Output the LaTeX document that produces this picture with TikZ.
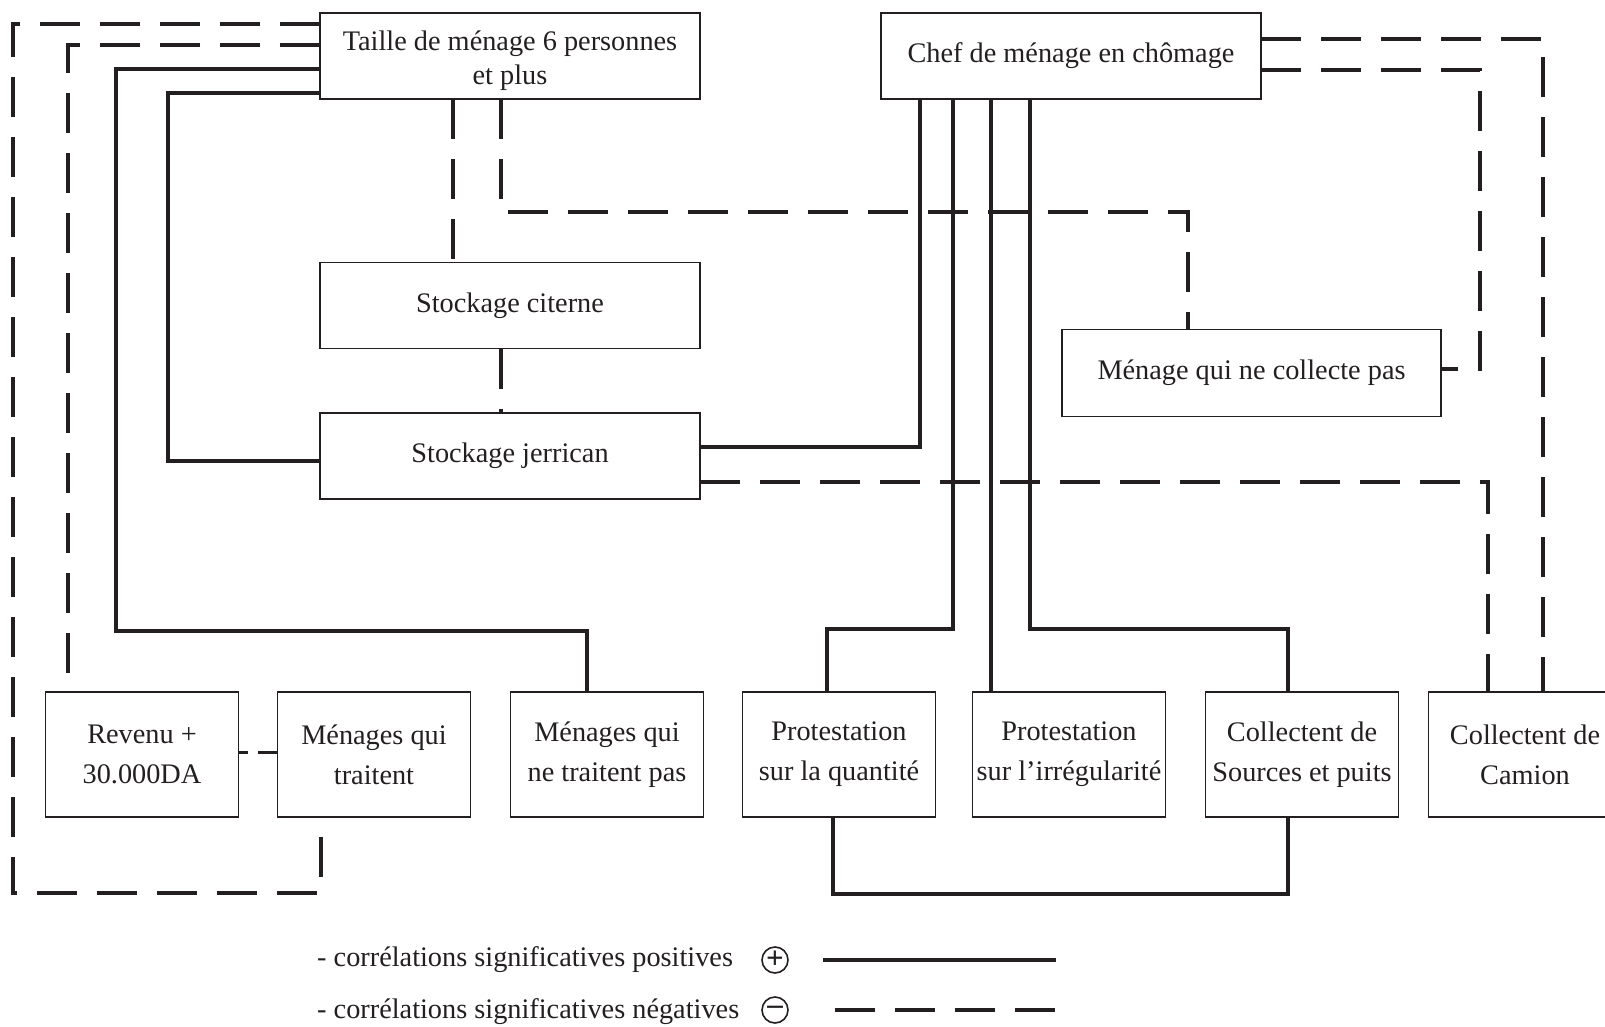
\documentclass[tikz,border=0pt]{standalone}
\usepackage{fontspec}
\setmainfont{Liberation Serif}
\usetikzlibrary{positioning}
\definecolor{tinta}{RGB}{35,31,32}
\tikzset{
	every node/.style={
		font=\fontsize{28.3pt}{34pt}\selectfont,
		text=tinta
	},
	caja/.style={
		shape=rectangle,
		minimum width=380pt,
		minimum height=86pt,
		inner sep=0pt,
		outer sep=0pt,
		align=center,
		draw=tinta,
		line width=1.5pt
	},
	cajita/.style={
		caja,
		minimum width=193pt,
		minimum height=125pt,
		font=\fontsize{28.3pt}{40pt}\selectfont
	},
	leyenda/.style={
		inner sep=0pt,
		anchor=base west
	},
	signo/.style={
		shape=circle,
		draw=tinta,
		line width=1.6pt,
		minimum size=26pt,
		inner sep=0pt,
		font=\fontsize{31pt}{31pt}\selectfont\bfseries
	},
	positiva/.style={draw=tinta, line width=3.2pt},
	negativa/.style={draw=tinta, line width=3.6pt, dash pattern=on 40pt off 20pt},
}

\begin{document}
\begin{tikzpicture}[x=1pt,y=-1pt,line join=miter]
	\useasboundingbox (0,0) rectangle (1605,1027);
	
	% Cajas de arriba
	\node[caja] (Taille)   at (510,56)     {\rule{0pt}{30pt}Taille de ménage 6 personnes\\et plus};
	\node[caja] (Citerne)  at (510,305.5)  {Stockage citerne};
	\node[caja] (Jerrican) at (510,456)    {Stockage jerrican};
	\node[caja] (Chef)     at (1071,56)    {Chef de ménage en chômage};
	\node[caja, minimum width=379pt, minimum height=87pt] (Collecte) at (1251.5,373) {Ménage qui ne collecte pas};
	
	% Fila de abajo
	\node[cajita] (Revenu)                           at (142,754.5) {Revenu +\\30.000DA};
	\node[cajita] (Traitent)    [right=39pt of Revenu]      {Ménages qui\\traitent};
	\node[cajita] (NonTraitent) [right=40pt of Traitent]    {Ménages qui\\ne traitent pas};
	\node[cajita] (Quantite)    [right=39pt of NonTraitent] {Protestation\\sur la quantité};
	\node[cajita] (Irreg)       [right=37pt of Quantite]    {Protestation\\sur l’irrégularité};
	\node[cajita] (Sources)     [right=40pt of Irreg]       {Collectent de\\Sources et puits};
	\node[cajita] (Camion)      [right=30pt of Sources]     {Collectent de\\Camion};
	
	% Correlaciones positivas
	\draw[positiva] ([yshift=-13pt]Taille.west) -- ++(-204,0) -- ++(0,562) -| ([xshift=-20pt]NonTraitent.north);
	\draw[positiva] ([yshift=-37pt]Taille.west) -- ++(-152,0) |- ([yshift=-5pt]Jerrican.west);
	\draw[positiva] ([yshift=9pt]Jerrican.east) -| ([xshift=-151pt]Chef.south);
	\draw[positiva] ([xshift=-118pt]Chef.south) -- ++(0,530) -| ([xshift=-12pt]Quantite.north);
	\draw[positiva] ([xshift=-80pt]Chef.south) -- ([xshift=-78pt]Irreg.north);
	\draw[positiva] ([xshift=-41pt]Chef.south) -- ++(0,530) -| ([xshift=-14pt]Sources.north);
	\draw[positiva] ([xshift=-6pt]Quantite.south) -- ++(0,77) -| ([xshift=-14pt]Sources.south);
	
	% Correlaciones negativas
	\draw[negativa] ([yshift=32pt]Taille.west) -- ++(-307,0) -- ++(0,869) -| ([xshift=-53pt]Traitent.south);
	\draw[negativa] ([yshift=11pt]Taille.west) -| ([xshift=-74pt]Revenu.north);
	\draw[negativa] ([xshift=-57pt]Taille.south) -- ([xshift=-57pt]Citerne.north);
	\draw[negativa] ([xshift=-9pt]Taille.south) -- ++(0,113) -| ([xshift=-63.5pt]Collecte.north);
	\draw[negativa] ([xshift=-9pt]Citerne.south) -- ([xshift=-9pt]Jerrican.north);
	\draw[negativa, dash pattern=on 9pt off 10pt on 40pt off 20pt] ([yshift=2pt]Revenu.east) -- ([yshift=2pt]Traitent.west);
	\draw[negativa] ([yshift=-26pt]Jerrican.east) -| ([xshift=-37pt]Camion.north);
	\draw[negativa] ([yshift=17pt]Chef.east) -| ([xshift=18pt]Camion.north);
	\draw[negativa] ([yshift=-14pt]Chef.east) -- ++(219,0) |- ([yshift=4pt]Collecte.east);
	
	% Leyenda
	\node[leyenda] (LPos) at (317,966)  {- corrélations significatives positives};
	\node[leyenda] (LNeg) at (317,1018) {- corrélations significatives négatives};
	\node[signo] (SPos) at (775,960)  {+};
	\node[signo] (SNeg) at (775,1010) {–};
	\draw[positiva] ([xshift=34pt]SPos.east) -- ++(233,0);
	\draw[negativa] ([xshift=46pt]SNeg.east) -- ++(221,0);
	
\end{tikzpicture}
\end{document}
